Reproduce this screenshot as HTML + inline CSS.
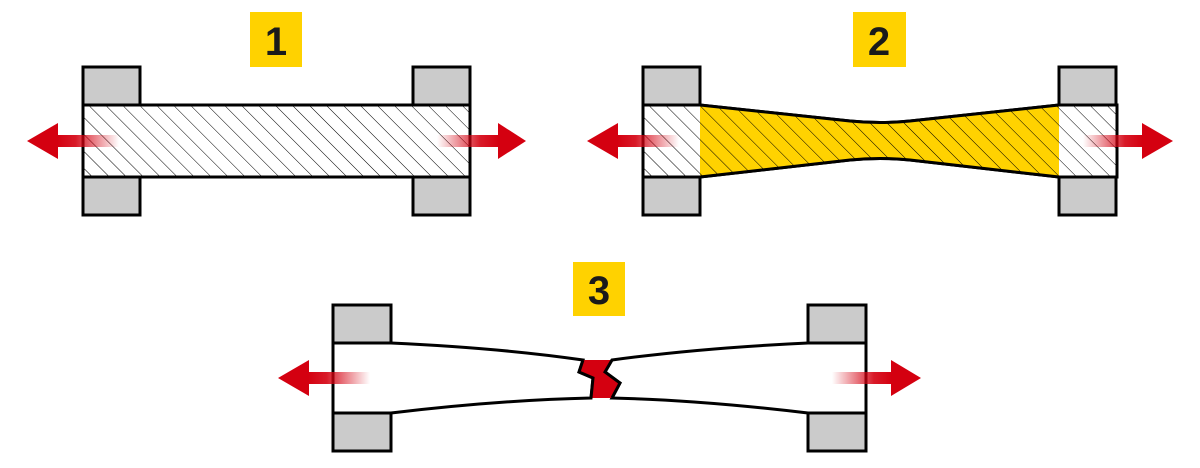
<!DOCTYPE html>
<html><head><meta charset="utf-8"><style>
html,body{margin:0;padding:0;background:#fff;width:1200px;height:468px;overflow:hidden}
</style></head><body>
<svg width="1200" height="468" viewBox="0 0 1200 468" xmlns="http://www.w3.org/2000/svg">
<defs>
<pattern id="h" patternUnits="userSpaceOnUse" width="12" height="12" patternTransform="rotate(-45)">
<line x1="0" y1="0" x2="0" y2="12" stroke="#000" stroke-width="1"/>
</pattern>
<linearGradient id="gl" x1="0" x2="1"><stop offset="0" stop-color="#d40010"/><stop offset="0.3" stop-color="#d40010" stop-opacity="0.9"/><stop offset="1" stop-color="#d40010" stop-opacity="0"/></linearGradient>
<linearGradient id="gr" x1="1" x2="0"><stop offset="0" stop-color="#d40010"/><stop offset="0.3" stop-color="#d40010" stop-opacity="0.9"/><stop offset="1" stop-color="#d40010" stop-opacity="0"/></linearGradient>
</defs>
<g font-family="Liberation Sans, sans-serif" font-weight="bold" font-size="40" fill="#1a1a1a" text-anchor="middle">
<rect x="250" y="12" width="52" height="55" fill="#ffd200"/><text x="276" y="55">1</text>
<rect x="853" y="12" width="53" height="55" fill="#ffd200"/><text x="879" y="55">2</text>
<rect x="573" y="262" width="52" height="54" fill="#ffd200"/><text x="599" y="304">3</text>
</g>
<g stroke="#000" stroke-width="3">
<rect x="83" y="105" width="387" height="72" fill="#fff"/>
<rect x="83" y="105" width="387" height="72" fill="url(#h)" stroke="none"/>
<rect x="83" y="67" width="57" height="38" fill="#cbcbcb"/>
<rect x="83" y="177" width="57" height="38" fill="#cbcbcb"/>
<rect x="413" y="67" width="57" height="38" fill="#cbcbcb"/>
<rect x="413" y="177" width="57" height="38" fill="#cbcbcb"/>
<path d="M643 105 L700 105 L850 121 Q880 124 910 121 L1059 105 L1117 105 L1117 177 L1059 177 L910 160 Q880 157 850 160 L700 177 L643 177 Z" fill="#fff"/>
<path d="M700 105 L850 121 Q880 124 910 121 L1059 105 L1059 177 L910 160 Q880 157 850 160 L700 177 Z" fill="#ffd200" stroke="none"/>
<path d="M643 105 L700 105 L850 121 Q880 124 910 121 L1059 105 L1117 105 L1117 177 L1059 177 L910 160 Q880 157 850 160 L700 177 L643 177 Z" fill="url(#h)"/>
<rect x="643" y="67" width="57" height="38" fill="#cbcbcb"/>
<rect x="643" y="177" width="57" height="38" fill="#cbcbcb"/>
<rect x="1059" y="67" width="57" height="38" fill="#cbcbcb"/>
<rect x="1059" y="177" width="57" height="38" fill="#cbcbcb"/>
<path d="M333 343 L391 343 Q500 348 583 360 L579 372 L593 378 L591 398 Q500 400 391 413 L333 413 Z" fill="#fff"/>
<path d="M866 343 L808 343 Q700 348 612 360 L605 372 L620 383 L612 398 Q700 400 808 413 L866 413 Z" fill="#fff"/>
<path d="M583 360 L612 360 L605 372 L620 383 L612 398 L591 398 L593 378 L579 372 Z" fill="#d40010" stroke="none"/>
<path d="M583 360 L579 372 L593 378 L591 398 M612 360 L605 372 L620 383 L612 398" fill="none" stroke-width="3"/>
<rect x="333" y="305" width="58" height="38" fill="#cbcbcb"/>
<rect x="333" y="413" width="58" height="38" fill="#cbcbcb"/>
<rect x="808" y="305" width="58" height="38" fill="#cbcbcb"/>
<rect x="808" y="413" width="58" height="38" fill="#cbcbcb"/>
</g>
<g>
<rect x="57" y="135" width="62" height="12" fill="url(#gl)"/><polygon points="27,141 58,123 58,159" fill="#d40010"/>
<rect x="437" y="135" width="62" height="12" fill="url(#gr)"/><polygon points="526,141 498,123 498,159" fill="#d40010"/>
<rect x="617" y="135" width="62" height="12" fill="url(#gl)"/><polygon points="587,141 618,123 618,159" fill="#d40010"/>
<rect x="1083" y="135" width="60" height="12" fill="url(#gr)"/><polygon points="1173,141 1142,123 1142,159" fill="#d40010"/>
<rect x="308" y="372" width="62" height="12" fill="url(#gl)"/><polygon points="278,378 309,360 309,396" fill="#d40010"/>
<rect x="832" y="372" width="60" height="12" fill="url(#gr)"/><polygon points="921,378 891,360 891,396" fill="#d40010"/>
</g>
</svg>
</body></html>
